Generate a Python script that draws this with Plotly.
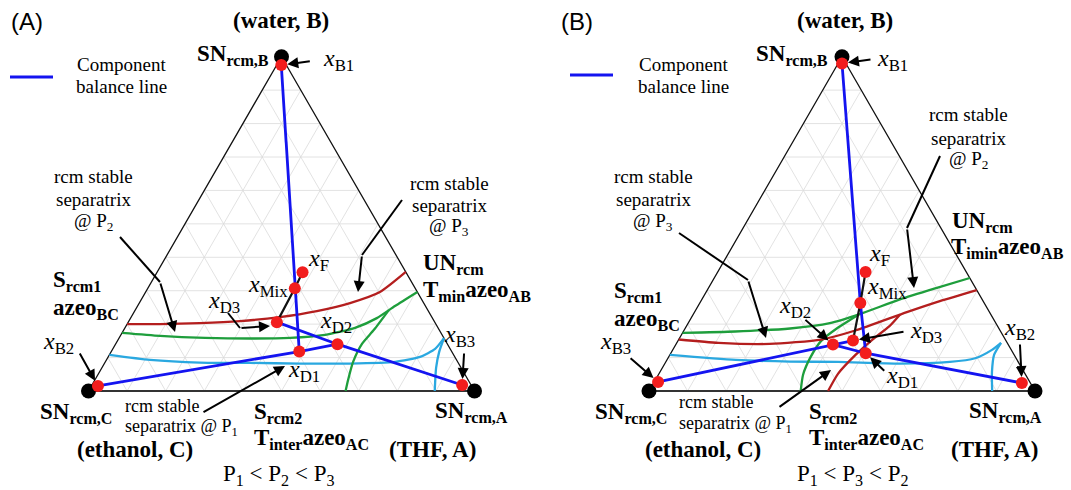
import numpy as np
import plotly.graph_objects as go

W, H = 1071, 490
SERIF = "Liberation Serif"
SANS = "Liberation Sans"
SQ3 = np.sqrt(3) / 2

# ---------------- Panel A : P1 < P2 < P3 ----------------
# stream compositions (mole fractions of THF = A and water = B)
a_names = ["B1", "F", "Mix", "D3", "D2", "D1", "B2", "B3"]
a_xA = [0.012, 0.377, 0.381, 0.385, 0.575, 0.487, 0.017, 0.959]
a_xB = [0.975, 0.355, 0.307, 0.206, 0.140, 0.118, 0.015, 0.018]

# rcm stable separatrix @ P3 (red)
a_p3_xA = [0.000, 0.085, 0.187, 0.288, 0.385, 0.472, 0.546, 0.607, 0.644]
a_p3_xB = [0.200, 0.200, 0.203, 0.209, 0.221, 0.239, 0.263, 0.296, 0.356]
# rcm stable separatrix @ P2 (green) and its branch to the A-C edge
a_p2_xA = [0.000, 0.103, 0.223, 0.340, 0.443, 0.529, 0.596, 0.638, 0.667, 0.704]
a_p2_xB = [0.174, 0.165, 0.159, 0.157, 0.159, 0.168, 0.189, 0.218, 0.254, 0.296]
a_p2b_xA = [0.666, 0.656, 0.642, 0.638, 0.648, 0.657]
a_p2b_xB = [0.000, 0.033, 0.087, 0.141, 0.183, 0.242]
# rcm stable separatrix @ P1 (light blue) and its branch
a_p1_xA = [0.000, 0.113, 0.246, 0.377, 0.507, 0.636, 0.751, 0.808, 0.835, 0.842]
a_p1_xB = [0.108, 0.093, 0.085, 0.084, 0.082, 0.082, 0.087, 0.102, 0.126, 0.158]
a_p1b_xA = [0.842, 0.850, 0.866, 0.897]
a_p1b_xB = [0.158, 0.117, 0.069, 0.000]

# ---------------- Panel B : P1 < P3 < P2 ----------------
b_names = ["B1", "F", "Mix", "D3", "D2", "D1", "B2", "B3"]
b_xA = [0.010, 0.383, 0.416, 0.453, 0.407, 0.505, 0.954, 0.010]
b_xB = [0.980, 0.356, 0.263, 0.151, 0.139, 0.113, 0.024, 0.027]

# rcm stable separatrix @ P2 (green) and branch
b_p2_xA = [0.000, 0.134, 0.272, 0.367, 0.431, 0.513, 0.588, 0.662]
b_p2_xB = [0.174, 0.178, 0.187, 0.203, 0.230, 0.274, 0.307, 0.338]
b_p2b_xA = [0.393, 0.375, 0.368, 0.371, 0.395, 0.429]
b_p2b_xB = [0.000, 0.048, 0.099, 0.150, 0.190, 0.229]
# rcm stable separatrix @ P3 (red) and branch
b_p3_xA = [0.000, 0.108, 0.242, 0.369, 0.444, 0.550, 0.619, 0.698]
b_p3_xB = [0.154, 0.144, 0.141, 0.154, 0.181, 0.236, 0.269, 0.302]
b_p3b_xA = [0.464, 0.464, 0.481, 0.502, 0.526, 0.536]
b_p3b_xB = [0.000, 0.052, 0.108, 0.154, 0.194, 0.229]
# rcm stable separatrix @ P1 (light blue) and branch
b_p1_xA = [0.000, 0.178, 0.321, 0.446, 0.609, 0.736, 0.796, 0.827, 0.840]
b_p1_xB = [0.108, 0.093, 0.088, 0.087, 0.082, 0.087, 0.098, 0.123, 0.144]
b_p1b_xA = [0.840, 0.840, 0.860, 0.889]
b_p1b_xB = [0.144, 0.108, 0.057, 0.000]

# pure-component vertices: C (ethanol), A (THF), B (water)
vert_xA = [0.0, 1.0, 0.0]
vert_xB = [0.0, 0.0, 1.0]

BLUE = "#1414f0"
RED_PT = "#f21d1d"
DKRED = "#b41e1e"
GREEN = "#1e9e3c"
CYAN = "#2aa8e0"


def tern(xa, xb):
    xa = np.asarray(xa, float)
    xb = np.asarray(xb, float)
    return xa + 0.5 * xb, SQ3 * xb


fig = go.Figure()


def line(xa, xb, color, width, ax, dash=None):
    X, Y = tern(xa, xb)
    fig.add_trace(go.Scatter(x=X, y=Y, mode="lines", xaxis=ax[0], yaxis=ax[1],
                             line=dict(color=color, width=width, dash=dash, shape="spline",
                                       smoothing=0.6),
                             hoverinfo="skip", showlegend=False))


def straight(xa, xb, color, width, ax, dash=None):
    X, Y = tern(xa, xb)
    fig.add_trace(go.Scatter(x=X, y=Y, mode="lines", xaxis=ax[0], yaxis=ax[1],
                             line=dict(color=color, width=width, dash=dash),
                             hoverinfo="skip", showlegend=False))


def pick(names, xa, xb, keys):
    idx = [names.index(k) for k in keys]
    return [xa[i] for i in idx], [xb[i] for i in idx]


def panel(ax, names, xa, xb, seps, balance):
    # composition grid
    for k in range(1, 10):
        f = k / 10
        straight([0, 1 - f], [f, f], "#dadada", 0.8, ax)
        straight([f, f], [0, 1 - f], "#dadada", 0.8, ax)
        straight([1 - f, 0], [0, 1 - f], "#dadada", 0.8, ax)
    # triangle edges
    straight([vert_xA[0], vert_xA[2], vert_xA[1]], [vert_xB[0], vert_xB[2], vert_xB[1]],
             "#111111", 1.3, ax)
    straight([vert_xA[0], vert_xA[1]], [vert_xB[0], vert_xB[1]], "#333333", 2.2, ax)
    # separatrices
    for sa, sb, col in seps:
        line(sa, sb, col, 2.3, ax)
    # component balance lines
    for keys in balance:
        pa, pb = pick(names, xa, xb, keys)
        straight(pa, pb, BLUE, 2.8, ax)
    pa, pb = pick(names, xa, xb, ["F", "Mix", "D3"])
    straight(pa, pb, "#111111", 2.2, ax)
    # singular points and stream points
    X, Y = tern(vert_xA, vert_xB)
    fig.add_trace(go.Scatter(x=X, y=Y, mode="markers", xaxis=ax[0], yaxis=ax[1],
                             marker=dict(color="black", size=15), hoverinfo="skip",
                             showlegend=False))
    X, Y = tern(xa, xb)
    fig.add_trace(go.Scatter(x=X, y=Y, mode="markers", xaxis=ax[0], yaxis=ax[1],
                             marker=dict(color=RED_PT, size=12), hoverinfo="skip",
                             showlegend=False))


panel(("x", "y"), a_names, a_xA, a_xB,
      [(a_p1_xA, a_p1_xB, CYAN), (a_p1b_xA, a_p1b_xB, CYAN),
       (a_p2_xA, a_p2_xB, GREEN), (a_p2b_xA, a_p2b_xB, GREEN),
       (a_p3_xA, a_p3_xB, DKRED)],
      [["B1", "Mix", "D1"], ["B2", "D1", "D2"], ["D3", "D2", "B3"]])
panel(("x2", "y2"), b_names, b_xA, b_xB,
      [(b_p1_xA, b_p1_xB, CYAN), (b_p1b_xA, b_p1b_xB, CYAN),
       (b_p2_xA, b_p2_xB, GREEN), (b_p2b_xA, b_p2b_xB, GREEN),
       (b_p3_xA, b_p3_xB, DKRED), (b_p3b_xA, b_p3b_xB, DKRED)],
      [["B1", "Mix", "D1"], ["B2", "D1", "D2"], ["B3", "D2", "D3"]])

annotations = []
shapes = []


def txt(text, px, py, size=19, anchor="center", family=SERIF):
    annotations.append(dict(x=px / W, y=1 - py / H, xref="paper", yref="paper", text=text,
                            showarrow=False, xanchor=anchor, yanchor="middle",
                            font=dict(family=family, size=size, color="black")))


def bold(text, px, py, size=23, anchor="left"):
    txt("<b>" + text + "</b>", px, py, size, anchor)


def xlab(sub, px, py, anchor="center"):
    txt("<i>x</i><sub>" + sub + "</sub>", px, py, 24, anchor)


def leader(points):
    # polyline drawn in pixel space, arrow head on the last segment
    for (x0, y0), (x1, y1) in zip(points[:-2], points[1:-1]):
        shapes.append(dict(type="line", xref="paper", yref="paper",
                           x0=x0 / W, y0=1 - y0 / H, x1=x1 / W, y1=1 - y1 / H,
                           line=dict(color="black", width=2)))
    (tx_, ty_), (hx, hy) = points[-2], points[-1]
    annotations.append(dict(x=hx / W, y=1 - hy / H, xref="paper", yref="paper",
                            ax=tx_ - hx, ay=ty_ - hy, axref="pixel", ayref="pixel",
                            text="", showarrow=True, arrowhead=2, arrowsize=1.1,
                            arrowwidth=2, arrowcolor="black"))


def point_arrow(ax, names, xa, xb, key, dx, dy):
    i = names.index(key)
    X, Y = tern(xa[i], xb[i])
    annotations.append(dict(x=float(X), y=float(Y), xref=ax[0], yref=ax[1],
                            ax=dx, ay=dy, axref="pixel", ayref="pixel", text="",
                            showarrow=True, arrowhead=2, arrowsize=1.1, arrowwidth=2,
                            arrowcolor="black", standoff=6))


# ----- panel A text -----
txt("(A)", 27, 22, 24, family=SANS)
bold("(water, B)", 281, 20, anchor="center")
bold("SN<sub>rcm,B</sub>", 271, 55, anchor="right")
xlab("B1", 321, 60, "left")
txt("Component", 121, 64)
txt("balance line", 121, 86)
shapes.append(dict(type="line", xref="paper", yref="paper", x0=10 / W, x1=53 / W,
                   y0=1 - 77 / H, y1=1 - 77 / H, line=dict(color=BLUE, width=3)))
for t, yy in [("rcm stable", 176), ("separatrix", 199), ("@ P<sub>2</sub>", 222)]:
    txt(t, 93, yy)
for t, yy in [("rcm stable", 183), ("separatrix", 205), ("@ P<sub>3</sub>", 227)]:
    txt(t, 449, yy)
bold("UN<sub>rcm</sub>", 421, 264)
bold("T<sub>min</sub>azeo<sub>AB</sub>", 421, 291)
bold("S<sub>rcm1</sub>", 51, 281)
bold("azeo<sub>BC</sub>", 51, 309)
xlab("B2", 58, 343)
xlab("D3", 224, 302)
xlab("Mix", 290, 286, "right")
xlab("F", 306, 260, "left")
xlab("D2", 336, 322)
xlab("D1", 304, 371)
xlab("B3", 460, 336)
txt("rcm stable", 123, 406, 18, "left")
txt("separatrix @ P<sub>1</sub>", 123, 427, 18, "left")
bold("SN<sub>rcm,C</sub>", 38, 413)
bold("(ethanol, C)", 135, 449, anchor="center")
bold("S<sub>rcm2</sub>", 252, 413)
bold("T<sub>inter</sub>azeo<sub>AC</sub>", 252, 439)
bold("(THF, A)", 432, 449, anchor="center")
bold("SN<sub>rcm,A</sub>", 433, 412)
txt("P<sub>1</sub> &lt; P<sub>2</sub> &lt; P<sub>3</sub>", 278, 475, 23)

point_arrow(("x", "y"), a_names, a_xA, a_xB, "B1", 30, -4)
point_arrow(("x", "y"), a_names, a_xA, a_xB, "B2", -19, -34)
point_arrow(("x", "y"), a_names, a_xA, a_xB, "B3", 2, -33)
leader([(228, 313), (240, 328), (270, 326)])
leader([(120, 237), (160, 282), (175, 332)])
leader([(402, 200), (362, 255), (358, 292)])
leader([(202, 413), (285, 366)])

# ----- panel B text -----
txt("(B)", 577, 22, 24, family=SANS)
bold("(water, B)", 845, 20, anchor="center")
bold("SN<sub>rcm,B</sub>", 830, 55, anchor="right")
xlab("B1", 875, 60, "left")
txt("Component", 683, 64)
txt("balance line", 683, 86)
shapes.append(dict(type="line", xref="paper", yref="paper", x0=570 / W, x1=613 / W,
                   y0=1 - 75 / H, y1=1 - 75 / H, line=dict(color=BLUE, width=3)))
for t, yy in [("rcm stable", 114), ("separatrix", 138), ("@ P<sub>2</sub>", 160)]:
    txt(t, 968, yy)
for t, yy in [("rcm stable", 176), ("separatrix", 199), ("@ P<sub>3</sub>", 222)]:
    txt(t, 653, yy)
bold("UN<sub>rcm</sub>", 950, 222)
bold("T<sub>imin</sub>azeo<sub>AB</sub>", 949, 248)
bold("S<sub>rcm1</sub>", 612, 292)
bold("azeo<sub>BC</sub>", 612, 320)
xlab("B3", 615, 343)
xlab("D2", 795, 307)
xlab("F", 867, 255, "left")
xlab("Mix", 865, 288, "left")
xlab("D3", 908, 332, "left")
xlab("D1", 884, 377, "left")
xlab("B2", 1019, 329)
txt("rcm stable", 677, 402, 18, "left")
txt("separatrix @ P<sub>1</sub>", 677, 424, 18, "left")
bold("SN<sub>rcm,C</sub>", 593, 413)
bold("(ethanol, C)", 703, 449, anchor="center")
bold("S<sub>rcm2</sub>", 807, 413)
bold("T<sub>inter</sub>azeo<sub>AC</sub>", 807, 439)
bold("(THF, A)", 994, 449, anchor="center")
bold("SN<sub>rcm,A</sub>", 967, 412)
txt("P<sub>1</sub> &lt; P<sub>3</sub> &lt; P<sub>2</sub>", 852, 475, 23)

point_arrow(("x2", "y2"), b_names, b_xA, b_xB, "B1", 30, -4)
point_arrow(("x2", "y2"), b_names, b_xA, b_xB, "B3", -29, -25)
point_arrow(("x2", "y2"), b_names, b_xA, b_xB, "D2", -29, -26)
point_arrow(("x2", "y2"), b_names, b_xA, b_xB, "D3", 52, -9)
point_arrow(("x2", "y2"), b_names, b_xA, b_xB, "D1", 20, 19)
point_arrow(("x2", "y2"), b_names, b_xA, b_xB, "B2", -2, -40)
leader([(940, 156), (907, 228), (914, 288)])
leader([(679, 233), (748, 280), (766, 338)])
leader([(778, 408), (831, 370)])

# axes scaled so one mole-fraction unit is 386 px in both directions
fig.update_layout(
    width=W, height=H, autosize=False, margin=dict(l=0, r=0, t=0, b=0),
    paper_bgcolor="white", plot_bgcolor="white", showlegend=False,
    xaxis=dict(domain=[0, 0.5], range=[-88.5 / 386, 447.0 / 386], visible=False),
    yaxis=dict(domain=[0, 1], range=[-99 / 386, 391 / 386], visible=False),
    xaxis2=dict(domain=[0.5, 1], range=[-113.5 / 386, 422.0 / 386], visible=False),
    yaxis2=dict(domain=[0, 1], range=[-99 / 386, 391 / 386], visible=False, anchor="x2"),
    annotations=annotations, shapes=shapes,
)
fig.write_html("out.html")
